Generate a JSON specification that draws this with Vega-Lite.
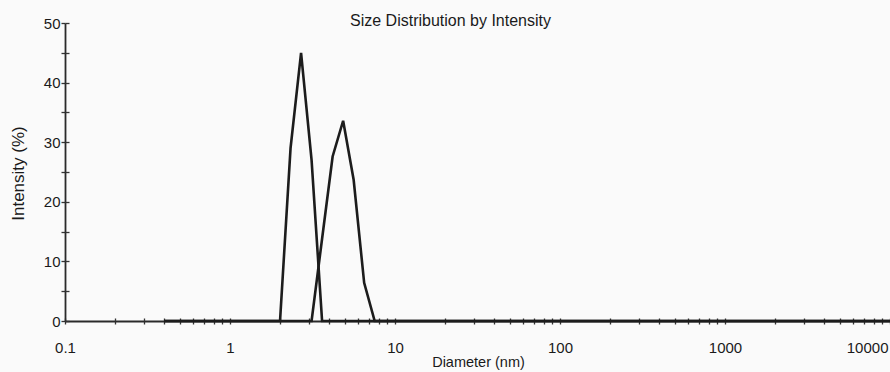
{
  "$schema": "https://vega.github.io/schema/vega-lite/v6.json",
  "width": 825,
  "height": 298,
  "autosize": {"type": "none"},
  "padding": {"left": 65, "top": 23, "right": 0, "bottom": 51},
  "background": "#fafafa",
  "title": {"text": "Size Distribution by Intensity", "font": "Liberation Sans", "fontSize": 16, "fontWeight": "normal", "color": "#1a1a1a", "anchor": "middle", "dx": -27, "offset": -13},
  "config": {"view": {"stroke": null}},
  "data": {"values": [
    {"d":0.4,"s":"A","v":0},{"d":0.4632,"s":"A","v":0},{"d":0.5365,"s":"A","v":0},{"d":0.6213,"s":"A","v":0},{"d":0.7195,"s":"A","v":0},{"d":0.8332,"s":"A","v":0},{"d":0.9649,"s":"A","v":0},{"d":1.117,"s":"A","v":0},{"d":1.294,"s":"A","v":0},{"d":1.499,"s":"A","v":0},{"d":1.736,"s":"A","v":0},{"d":2.010,"s":"A","v":0},{"d":2.328,"s":"A","v":29.0},{"d":2.696,"s":"A","v":45.0},{"d":3.122,"s":"A","v":27.0},{"d":3.615,"s":"A","v":0},{"d":4.188,"s":"A","v":0},{"d":4.849,"s":"A","v":0},{"d":5.615,"s":"A","v":0},{"d":6.503,"s":"A","v":0},{"d":7.531,"s":"A","v":0},{"d":8.721,"s":"A","v":0},{"d":10.10,"s":"A","v":0},{"d":11.70,"s":"A","v":0},{"d":13.54,"s":"A","v":0},{"d":15.69,"s":"A","v":0},{"d":18.17,"s":"A","v":0},{"d":21.04,"s":"A","v":0},{"d":24.36,"s":"A","v":0},{"d":28.21,"s":"A","v":0},{"d":32.67,"s":"A","v":0},{"d":37.84,"s":"A","v":0},{"d":43.82,"s":"A","v":0},{"d":50.75,"s":"A","v":0},{"d":58.77,"s":"A","v":0},{"d":68.06,"s":"A","v":0},{"d":78.82,"s":"A","v":0},{"d":91.28,"s":"A","v":0},{"d":105.7,"s":"A","v":0},{"d":122.4,"s":"A","v":0},{"d":141.8,"s":"A","v":0},{"d":164.2,"s":"A","v":0},{"d":190.1,"s":"A","v":0},{"d":220.2,"s":"A","v":0},{"d":255.0,"s":"A","v":0},{"d":295.3,"s":"A","v":0},{"d":342.0,"s":"A","v":0},{"d":396.1,"s":"A","v":0},{"d":458.7,"s":"A","v":0},{"d":531.2,"s":"A","v":0},{"d":615.1,"s":"A","v":0},{"d":712.4,"s":"A","v":0},{"d":825.0,"s":"A","v":0},{"d":955.4,"s":"A","v":0},{"d":1106,"s":"A","v":0},{"d":1281,"s":"A","v":0},{"d":1484,"s":"A","v":0},{"d":1718,"s":"A","v":0},{"d":1990,"s":"A","v":0},{"d":2305,"s":"A","v":0},{"d":2669,"s":"A","v":0},{"d":3091,"s":"A","v":0},{"d":3580,"s":"A","v":0},{"d":4145,"s":"A","v":0},{"d":4801,"s":"A","v":0},{"d":5560,"s":"A","v":0},{"d":6439,"s":"A","v":0},{"d":7456,"s":"A","v":0},{"d":8635,"s":"A","v":0},{"d":10000,"s":"A","v":0},
    {"d":0.4,"s":"B","v":0},{"d":0.4632,"s":"B","v":0},{"d":0.5365,"s":"B","v":0},{"d":0.6213,"s":"B","v":0},{"d":0.7195,"s":"B","v":0},{"d":0.8332,"s":"B","v":0},{"d":0.9649,"s":"B","v":0},{"d":1.117,"s":"B","v":0},{"d":1.294,"s":"B","v":0},{"d":1.499,"s":"B","v":0},{"d":1.736,"s":"B","v":0},{"d":2.010,"s":"B","v":0},{"d":2.328,"s":"B","v":0},{"d":2.696,"s":"B","v":0},{"d":3.122,"s":"B","v":0},{"d":3.615,"s":"B","v":13.8},{"d":4.188,"s":"B","v":27.6},{"d":4.849,"s":"B","v":33.6},{"d":5.615,"s":"B","v":23.7},{"d":6.503,"s":"B","v":6.4},{"d":7.531,"s":"B","v":0},{"d":8.721,"s":"B","v":0},{"d":10.10,"s":"B","v":0},{"d":11.70,"s":"B","v":0},{"d":13.54,"s":"B","v":0},{"d":15.69,"s":"B","v":0},{"d":18.17,"s":"B","v":0},{"d":21.04,"s":"B","v":0},{"d":24.36,"s":"B","v":0},{"d":28.21,"s":"B","v":0},{"d":32.67,"s":"B","v":0},{"d":37.84,"s":"B","v":0},{"d":43.82,"s":"B","v":0},{"d":50.75,"s":"B","v":0},{"d":58.77,"s":"B","v":0},{"d":68.06,"s":"B","v":0},{"d":78.82,"s":"B","v":0},{"d":91.28,"s":"B","v":0},{"d":105.7,"s":"B","v":0},{"d":122.4,"s":"B","v":0},{"d":141.8,"s":"B","v":0},{"d":164.2,"s":"B","v":0},{"d":190.1,"s":"B","v":0},{"d":220.2,"s":"B","v":0},{"d":255.0,"s":"B","v":0},{"d":295.3,"s":"B","v":0},{"d":342.0,"s":"B","v":0},{"d":396.1,"s":"B","v":0},{"d":458.7,"s":"B","v":0},{"d":531.2,"s":"B","v":0},{"d":615.1,"s":"B","v":0},{"d":712.4,"s":"B","v":0},{"d":825.0,"s":"B","v":0},{"d":955.4,"s":"B","v":0},{"d":1106,"s":"B","v":0},{"d":1281,"s":"B","v":0},{"d":1484,"s":"B","v":0},{"d":1718,"s":"B","v":0},{"d":1990,"s":"B","v":0},{"d":2305,"s":"B","v":0},{"d":2669,"s":"B","v":0},{"d":3091,"s":"B","v":0},{"d":3580,"s":"B","v":0},{"d":4145,"s":"B","v":0},{"d":4801,"s":"B","v":0},{"d":5560,"s":"B","v":0},{"d":6439,"s":"B","v":0},{"d":7456,"s":"B","v":0},{"d":8635,"s":"B","v":0},{"d":10000,"s":"B","v":0}
  ]},
  "resolve": {"axis": {"x": "independent", "y": "independent"}},
  "layer": [
    {
      "transform": [{"filter": "datum.s == 'A'"}],
      "mark": {"type": "line", "color": "#1c1c1c", "strokeWidth": 2.6, "strokeJoin": "miter", "clip": false},
      "encoding": {
        "x": {
          "field": "d", "type": "quantitative",
          "scale": {"type": "log", "domain": [0.1, 10000], "nice": false},
          "axis": {
            "orient": "bottom",
            "title": "Diameter (nm)",
            "values": [0.1,0.2,0.3,0.4,0.5,0.6,0.7,0.8,0.9,1,2,3,4,5,6,7,8,9,10,20,30,40,50,60,70,80,90,100,200,300,400,500,600,700,800,900,1000,2000,3000,4000,5000,6000,7000,8000,9000,10000],
            "format": "~g",
            "labelExpr": "indexof([0.1,1,10,100,1000,10000], datum.value) >= 0 ? datum.label : ''",
            "labelOverlap": false,
            "labelFlush": false,
            "labelBound": false,
            "labelAlign": {"condition": {"test": "datum.value == 10000", "value": "right"}, "value": "center"},
            "labelOffset": {"condition": {"test": "datum.value == 10000", "value": -2}, "value": 0},
            "labelFont": "Liberation Sans", "labelFontSize": 15, "labelColor": "#1a1a1a",
            "labelPadding": 16,
            "tickSize": 3, "tickColor": "#333", "tickWidth": 1.3,
            "domainColor": "#2a2a2a", "domainWidth": 1.8,
            "grid": false,
            "titleFont": "Liberation Sans", "titleFontSize": 14.5, "titleFontWeight": "normal", "titleColor": "#1a1a1a",
            "titlePadding": 0,
            "titleX": 413
          }
        },
        "y": {
          "field": "v", "type": "quantitative",
          "scale": {"domain": [0, 50], "nice": false},
          "axis": {
            "orient": "left",
            "title": "Intensity (%)",
            "values": [0,5,10,15,20,25,30,35,40,45,50],
            "labelExpr": "datum.value % 10 == 0 ? datum.label : ''",
            "labelFont": "Liberation Sans", "labelFontSize": 15, "labelColor": "#1a1a1a",
            "labelPadding": 1,
            "tickSize": 4, "tickColor": "#333", "tickWidth": 1.3,
            "domainColor": "#2a2a2a", "domainWidth": 1.8,
            "grid": false,
            "titleFont": "Liberation Sans", "titleFontSize": 17, "titleFontWeight": "normal", "titleColor": "#1a1a1a",
            "titleX": -38, "titleY": 150
          }
        }
      }
    },
    {
      "transform": [{"filter": "datum.s == 'B'"}],
      "mark": {"type": "line", "color": "#1c1c1c", "strokeWidth": 2.6, "strokeJoin": "miter", "clip": false},
      "encoding": {
        "x": {
          "field": "d", "type": "quantitative",
          "scale": {"type": "log", "domain": [0.1, 10000], "nice": false},
          "axis": {
            "orient": "bottom", "offset": -3,
            "title": null, "labels": false, "domain": false, "grid": false,
            "values": [0.1,0.2,0.3,0.4,0.5,0.6,0.7,0.8,0.9,1,2,3,4,5,6,7,8,9,10,20,30,40,50,60,70,80,90,100,200,300,400,500,600,700,800,900,1000,2000,3000,4000,5000,6000,7000,8000,9000,10000],
            "tickSize": 3, "tickColor": "#333", "tickWidth": 1.3
          }
        },
        "y": {
          "field": "v", "type": "quantitative",
          "scale": {"domain": [0, 50], "nice": false},
          "axis": {
            "orient": "left", "offset": -4,
            "title": null, "labels": false, "domain": false, "grid": false,
            "values": [0,5,10,15,20,25,30,35,40,45,50],
            "tickSize": 4, "tickColor": "#333", "tickWidth": 1.3
          }
        }
      }
    }
  ]
}
